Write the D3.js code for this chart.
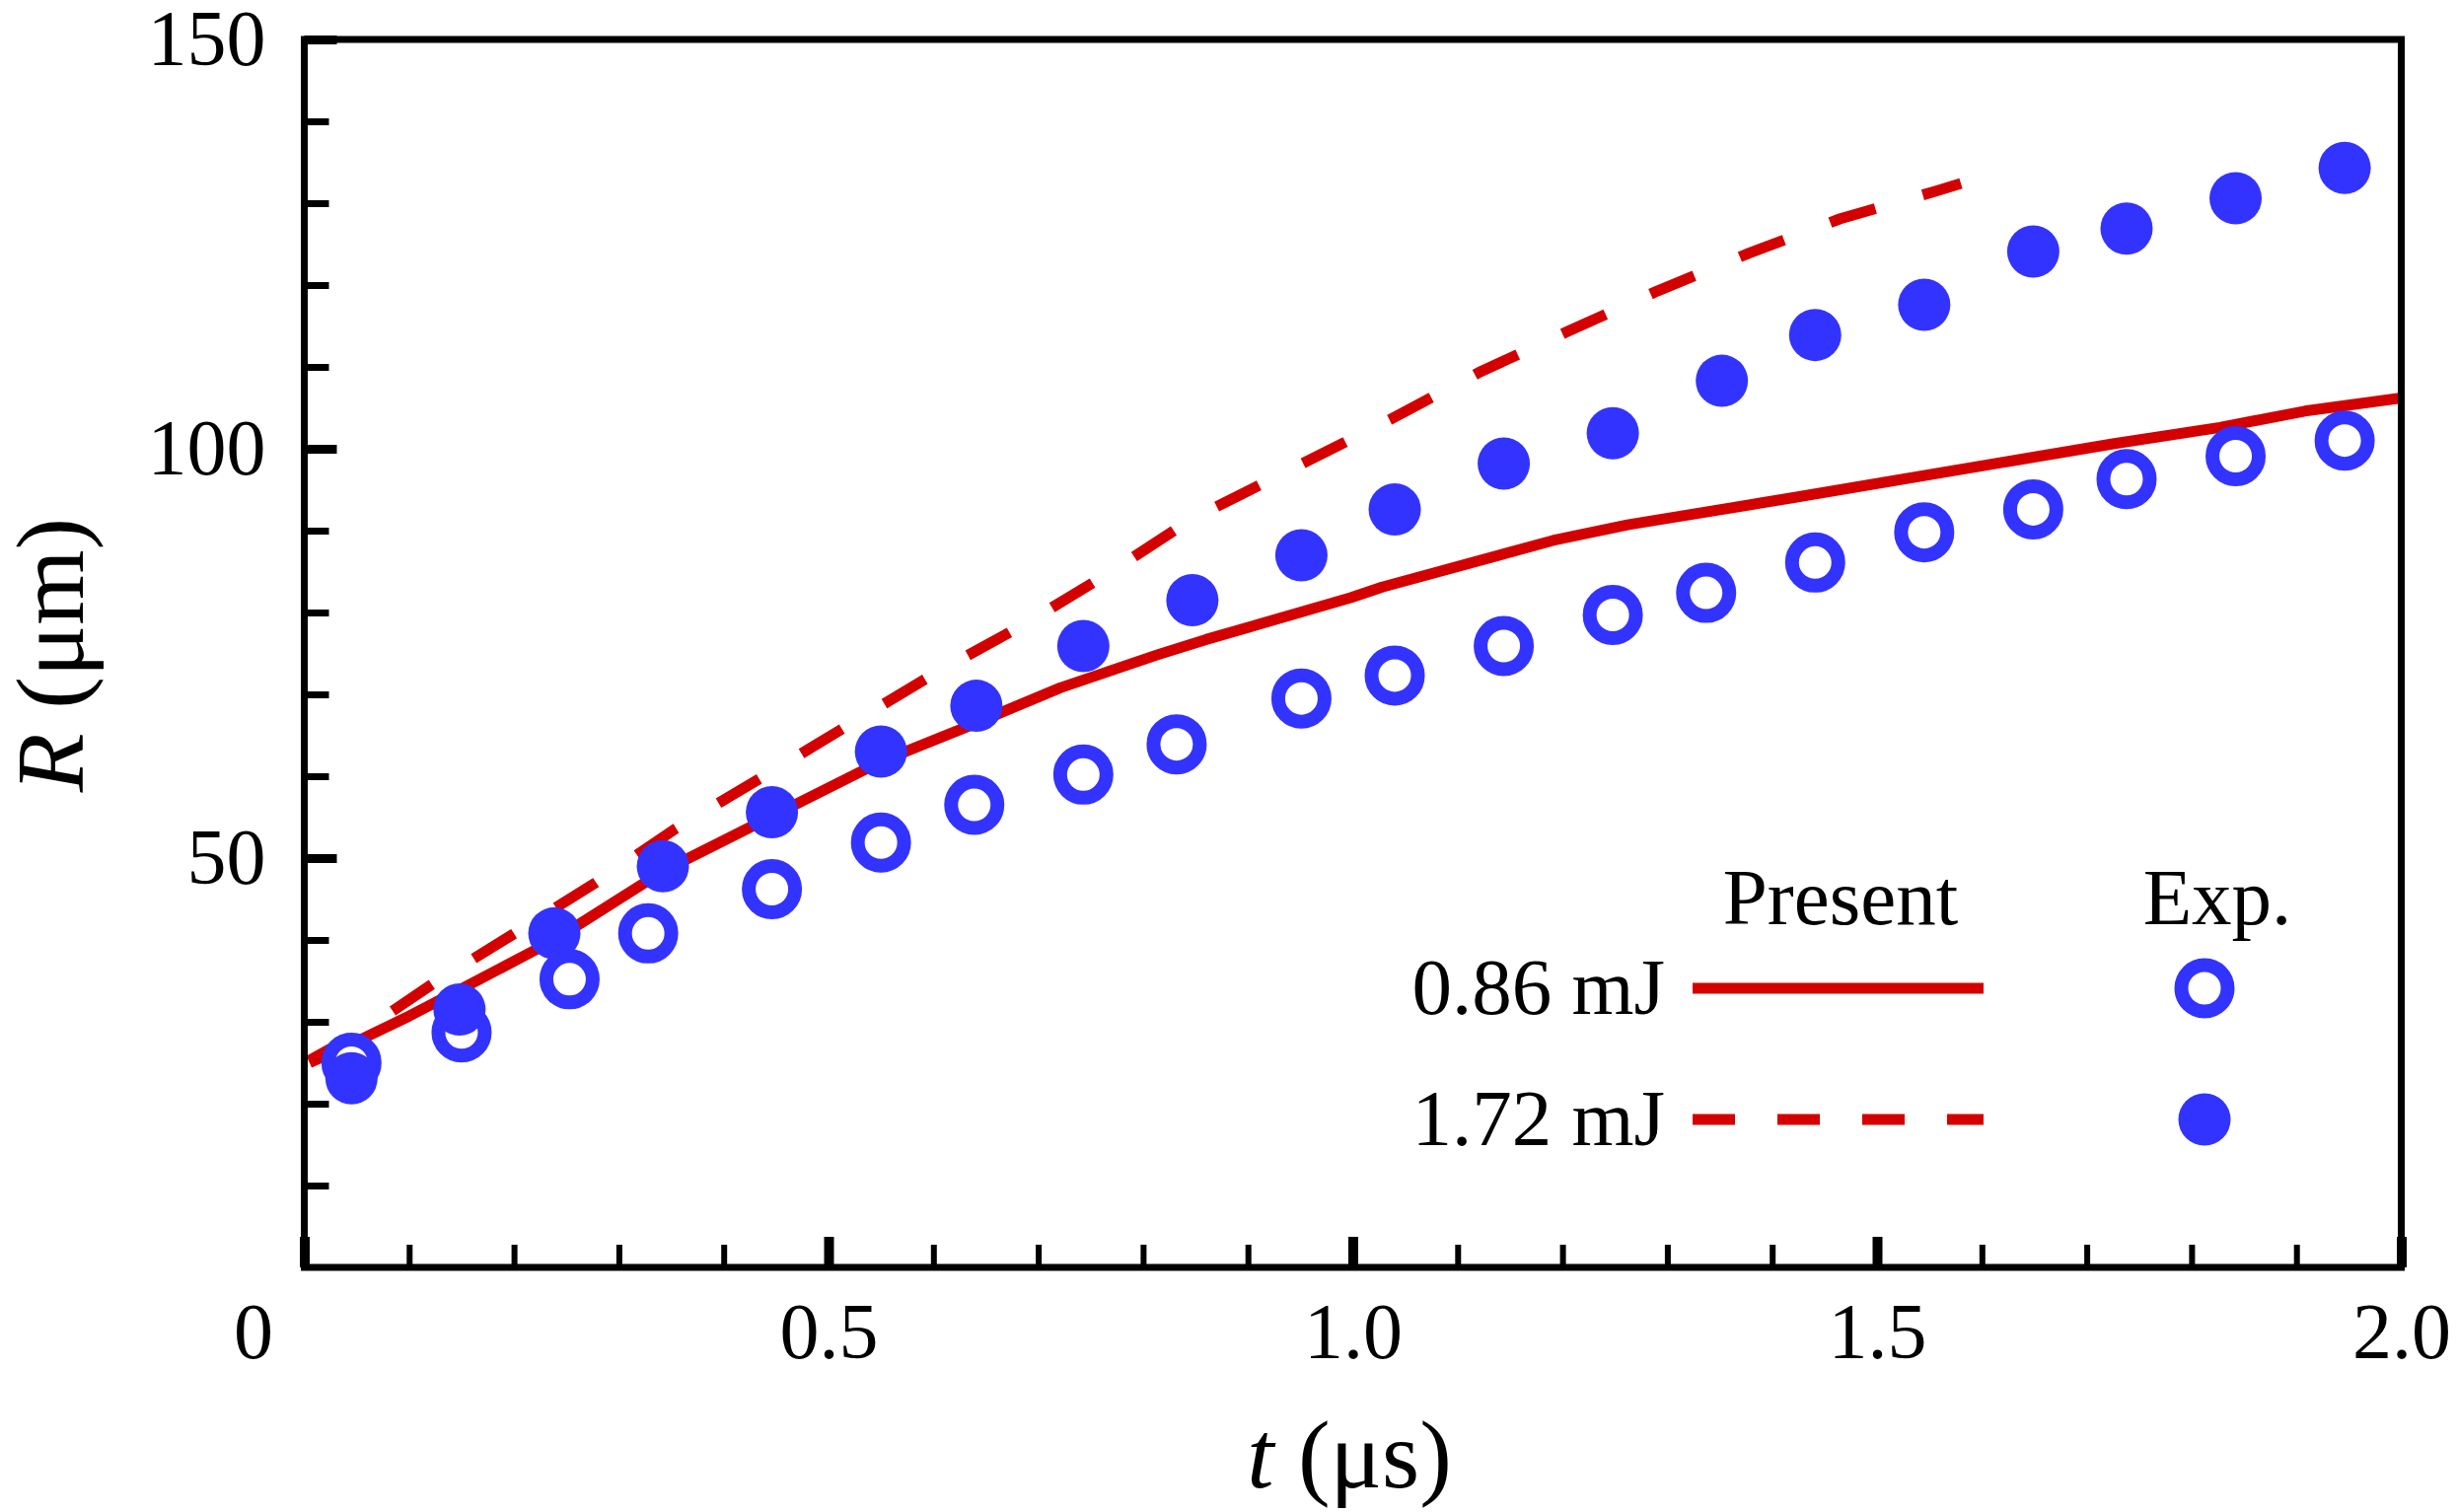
<!DOCTYPE html>
<html><head><meta charset="utf-8">
<script src="https://cdn.jsdelivr.net/npm/d3@7"></script>
<style>html,body{margin:0;padding:0;background:#fff;overflow:hidden}</style>
</head><body><svg id="c" width="2491" height="1533"></svg>
<script>
// ---- data ----
const tSim086 = [0.005, 0.05, 0.10, 0.148, 0.2385, 0.342, 0.446, 0.55, 0.641, 0.721, 0.813, 0.86, 0.998, 1.028, 1.191, 1.262, 1.419, 1.623, 1.725, 1.827, 1.908, 2.0];
const rSim086 = [25.0, 27.6, 30.7, 33.9, 40.0, 48.4, 55.1, 61.8, 66.5, 70.8, 74.8, 76.7, 81.8, 83.1, 88.8, 90.7, 94.0, 98.4, 100.6, 102.6, 104.6, 106.2];
const tSim172 = [0.005, 0.05, 0.076, 0.122, 0.198, 0.278, 0.353, 0.437, 0.521, 0.606, 0.6875, 0.771, 0.845, 0.952, 1.036, 1.12, 1.206, 1.291, 1.378, 1.465, 1.557, 1.58];
const rSim172 = [25.3, 28.5, 30.6, 34.6, 40.6, 47.0, 53.5, 59.9, 66.4, 72.9, 78.6, 85.1, 91.3, 98.2, 103.6, 109.3, 114.4, 119.3, 123.9, 128.1, 131.5, 132.4];
const tExp086 = [0.045, 0.150, 0.253, 0.328, 0.446, 0.550, 0.639, 0.743, 0.832, 0.951, 1.040, 1.144, 1.248, 1.337, 1.441, 1.545, 1.649, 1.738, 1.842, 1.946];
const rExp086 = [25.0, 28.7, 35.2, 40.8, 46.2, 51.9, 56.5, 60.2, 63.9, 69.5, 72.3, 75.9, 79.7, 82.4, 86.1, 89.8, 92.6, 96.3, 99.1, 101.0];
const tExp172 = [0.045, 0.148, 0.2385, 0.342, 0.446, 0.550, 0.641, 0.743, 0.847, 0.951, 1.040, 1.144, 1.248, 1.352, 1.441, 1.545, 1.649, 1.738, 1.842, 1.946];
const rExp172 = [23.1, 31.5, 40.8, 49.0, 55.6, 63.0, 68.6, 75.9, 81.5, 87.0, 92.6, 98.2, 101.9, 108.3, 113.9, 117.6, 124.1, 126.9, 130.6, 134.3];

const xMajorTicks = [0, 0.5, 1.0, 1.5, 2.0];
const xTickLabels = ["0", "0.5", "1.0", "1.5", "2.0"];
const xMinorTicks = [0.1,0.2,0.3,0.4,0.6,0.7,0.8,0.9,1.1,1.2,1.3,1.4,1.6,1.7,1.8,1.9];
const yMajorTicks = [50, 100, 150];
const yTickLabels = ["50", "100", "150"];
const yMinorTicks = [10,20,30,40,60,70,80,90,110,120,130,140];
const legendEnergies = ["0.86 mJ", "1.72 mJ"];
const legendHeaders = ["Present", "Exp."];
const xTitle = ["t", " (μs)"];
const yTitle = ["R", " (μm)"];

// ---- layout ----
const W = 2491, H = 1533;
const L = 308.5, R = 2434.5, T = 40, B = 1285;
const RED = "#d40000", BLUE = "#3333ff";
const FONT = "'Liberation Serif','Times New Roman',serif";

const svg = d3.select("#c");
svg.append("rect").attr("width", W).attr("height", H).attr("fill", "#fff");

const x = d3.scaleLinear().domain([0, 2]).range([L, R]);
const y = d3.scaleLinear().domain([0, 150]).range([B, T]);

// lines
const line = d3.line().x(d => x(d[0])).y(d => y(d[1])).curve(d3.curveLinear);
svg.append("path").datum(tSim086.map((t, i) => [t, rSim086[i]]))
  .attr("d", line).attr("fill", "none").attr("stroke", RED).attr("stroke-width", 11)
  .attr("stroke-linejoin", "round");
svg.append("path").datum(tSim172.map((t, i) => [t, rSim172[i]]))
  .attr("d", line).attr("fill", "none").attr("stroke", RED).attr("stroke-width", 11)
  .attr("stroke-linejoin", "round").attr("stroke-dasharray", "48,50");

// markers
svg.append("g").selectAll("circle").data(tExp086.map((t, i) => [t, rExp086[i]])).join("circle")
  .attr("cx", d => x(d[0])).attr("cy", d => y(d[1])).attr("r", 23.5)
  .attr("fill", "#fff").attr("stroke", BLUE).attr("stroke-width", 14);
svg.append("g").selectAll("circle").data(tExp172.map((t, i) => [t, rExp172[i]])).join("circle")
  .attr("cx", d => x(d[0])).attr("cy", d => y(d[1])).attr("r", 26.5)
  .attr("fill", BLUE);

// axes
function styleAxis(g, w) {
  g.select(".domain").remove();
  g.selectAll(".tick line").attr("stroke", "#000").attr("stroke-width", w);
  g.selectAll("text").attr("font-family", FONT).attr("font-size", 80).attr("fill", "#000");
}
const gxm = svg.append("g").attr("transform", `translate(0,${B})`)
  .call(d3.axisBottom(x).tickValues(xMinorTicks).tickSize(-23).tickSizeOuter(0).tickFormat(""));
styleAxis(gxm, 6);
const gx = svg.append("g").attr("transform", `translate(0,${B})`)
  .call(d3.axisBottom(x).tickValues(xMajorTicks).tickSize(-31).tickSizeOuter(0).tickPadding(35)
    .tickFormat((d, i) => xTickLabels[i]));
styleAxis(gx, 10);
gx.selectAll(".tick text").filter((d, i) => i === 0).attr("dx", -52);

const gym = svg.append("g").attr("transform", `translate(${L},0)`)
  .call(d3.axisLeft(y).tickValues(yMinorTicks).tickSize(-25).tickSizeOuter(0).tickFormat(""));
styleAxis(gym, 7);
const gy = svg.append("g").attr("transform", `translate(${L},0)`)
  .call(d3.axisLeft(y).tickValues(yMajorTicks).tickSize(-33).tickSizeOuter(0).tickPadding(39)
    .tickFormat((d, i) => yTickLabels[i]));
styleAxis(gy, 9);

// frame
svg.append("rect").attr("x", L).attr("y", T).attr("width", R - L).attr("height", B - T)
  .attr("fill", "none").attr("stroke", "#000").attr("stroke-width", 7);

// axis titles
const xt = svg.append("text").attr("x", 1368).attr("y", 1508).attr("text-anchor", "middle")
  .attr("font-family", FONT).attr("font-size", 98).attr("fill", "#000");
xt.append("tspan").attr("font-style", "italic").text(xTitle[0]);
xt.append("tspan").text(xTitle[1]);
const yt = svg.append("text").attr("transform", "translate(84,664) rotate(-90)").attr("text-anchor", "middle")
  .attr("font-family", FONT).attr("font-size", 98).attr("fill", "#000");
yt.append("tspan").attr("font-style", "italic").text(yTitle[0]);
yt.append("tspan").text(yTitle[1]);

// legend
const lg = svg.append("g").attr("font-family", FONT).attr("font-size", 81).attr("fill", "#000");
lg.append("text").attr("x", 1866).attr("y", 937).attr("text-anchor", "middle").text(legendHeaders[0]);
lg.append("text").attr("x", 2248).attr("y", 937).attr("text-anchor", "middle").text(legendHeaders[1]);
const rowY = [1002, 1135];
legendEnergies.forEach((s, i) => {
  lg.append("text").attr("x", 1688).attr("y", rowY[i] + 26).attr("text-anchor", "end").text(s);
  const ln = lg.append("line").attr("x1", 1716).attr("x2", 2011).attr("y1", rowY[i]).attr("y2", rowY[i])
    .attr("stroke", RED).attr("stroke-width", 11);
  if (i === 1) ln.attr("stroke-dasharray", "43,43");
});
lg.append("circle").attr("cx", 2235).attr("cy", rowY[0]).attr("r", 23.5)
  .attr("fill", "#fff").attr("stroke", BLUE).attr("stroke-width", 14);
lg.append("circle").attr("cx", 2235).attr("cy", rowY[1]).attr("r", 26.5).attr("fill", BLUE);
</script></body></html>
